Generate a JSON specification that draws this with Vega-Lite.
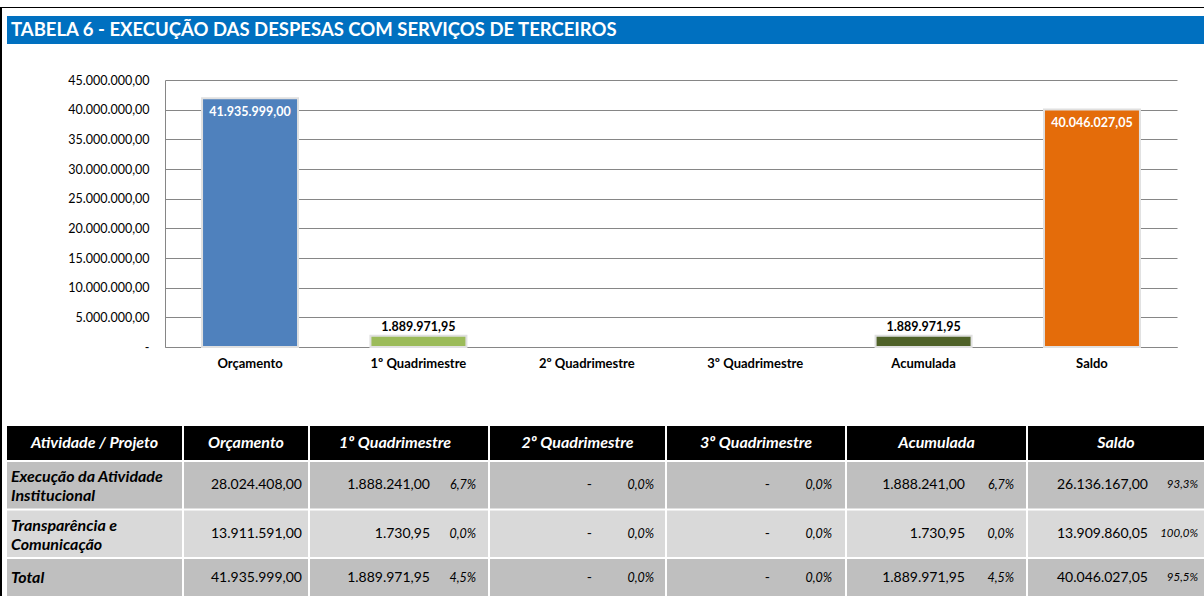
{
  "$schema": "https://vega.github.io/schema/vega-lite/v6.json",
  "background": "white",
  "padding": {"left": 0, "top": 7, "right": 0, "bottom": 0},
  "config": {
    "view": {"stroke": null},
    "locale": {"number": {"decimal": ",", "thousands": ".", "grouping": [3], "currency": ["R$", ""]}},
    "font": "Lato",
    "text": {"font": "Lato", "color": "#000000"}
  },
  "datasets": {
    "titulo": [{"titulo": "TABELA 6 - EXECUÇÃO DAS DESPESAS COM SERVIÇOS DE TERCEIROS"}],
    "grafico": [
      {"categoria": "Orçamento", "valor": 41935999.00},
      {"categoria": "1º  Quadrimestre", "valor": 1889971.95},
      {"categoria": "2º Quadrimestre", "valor": 0},
      {"categoria": "3º Quadrimestre", "valor": 0},
      {"categoria": "Acumulada", "valor": 1889971.95},
      {"categoria": "Saldo", "valor": 40046027.05}
    ],
    "colunas": [
      {"coluna": "Atividade / Projeto"},
      {"coluna": "Orçamento"},
      {"coluna": "1º  Quadrimestre"},
      {"coluna": "2º Quadrimestre"},
      {"coluna": "3º Quadrimestre"},
      {"coluna": "Acumulada"},
      {"coluna": "Saldo"}
    ],
    "tabela": [
      {"linha": "Execução da Atividade\nInstitucional", "coluna": "Orçamento", "valor": 28024408.00, "pct": null},
      {"linha": "Execução da Atividade\nInstitucional", "coluna": "1º  Quadrimestre", "valor": 1888241.00, "pct": 0.067},
      {"linha": "Execução da Atividade\nInstitucional", "coluna": "2º Quadrimestre", "valor": 0, "pct": 0},
      {"linha": "Execução da Atividade\nInstitucional", "coluna": "3º Quadrimestre", "valor": 0, "pct": 0},
      {"linha": "Execução da Atividade\nInstitucional", "coluna": "Acumulada", "valor": 1888241.00, "pct": 0.067},
      {"linha": "Execução da Atividade\nInstitucional", "coluna": "Saldo", "valor": 26136167.00, "pct": 0.933},
      {"linha": "Transparência e\nComunicação", "coluna": "Orçamento", "valor": 13911591.00, "pct": null},
      {"linha": "Transparência e\nComunicação", "coluna": "1º  Quadrimestre", "valor": 1730.95, "pct": 0.0},
      {"linha": "Transparência e\nComunicação", "coluna": "2º Quadrimestre", "valor": 0, "pct": 0},
      {"linha": "Transparência e\nComunicação", "coluna": "3º Quadrimestre", "valor": 0, "pct": 0},
      {"linha": "Transparência e\nComunicação", "coluna": "Acumulada", "valor": 1730.95, "pct": 0.0},
      {"linha": "Transparência e\nComunicação", "coluna": "Saldo", "valor": 13909860.05, "pct": 1.0},
      {"linha": "Total", "coluna": "Orçamento", "valor": 41935999.00, "pct": null},
      {"linha": "Total", "coluna": "1º  Quadrimestre", "valor": 1889971.95, "pct": 0.045},
      {"linha": "Total", "coluna": "2º Quadrimestre", "valor": 0, "pct": 0},
      {"linha": "Total", "coluna": "3º Quadrimestre", "valor": 0, "pct": 0},
      {"linha": "Total", "coluna": "Acumulada", "valor": 1889971.95, "pct": 0.045},
      {"linha": "Total", "coluna": "Saldo", "valor": 40046027.05, "pct": 0.955}
    ]
  },
  "spacing": 0,
  "vconcat": [
    {"width": 1204, "height": 1, "view": {"fill": "#000000"}, "data": {"values": []}, "mark": "rect", "encoding": {}},
    {
      "spacing": 5,
      "hconcat": [
        {"width": 2, "height": 588, "view": {"fill": "#000000"}, "data": {"values": []}, "mark": "rect", "encoding": {}},
        {
          "spacing": 7,
          "vconcat": [
            {"width": 1197, "height": 1, "data": {"values": []}, "mark": "rect", "encoding": {}},
            {
              "spacing": 30,
              "vconcat": [
                {
                  "width": 1197, "height": 28, "view": {"fill": "#0070C0"},
                  "data": {"name": "titulo"},
                  "mark": {"type": "text", "align": "left", "baseline": "middle", "dx": -594.5, "color": "#ffffff", "font": "Lato", "fontWeight": "bold", "fontSize": 18.5},
                  "encoding": {"text": {"field": "titulo"}}
                },
                {
                  "spacing": 56,
                  "vconcat": [
                    {
                      "spacing": 0,
                      "hconcat": [
                        {"width": 60, "height": 1, "data": {"values": []}, "mark": "rect", "encoding": {}},
                        {
                          "width": 1012, "height": 267,
                          "data": {"name": "grafico"},
                          "encoding": {
                            "x": {"field": "categoria", "type": "nominal", "sort": null,
                              "scale": {"paddingInner": 0.43, "paddingOuter": 0.22},
                              "axis": {"title": null, "labelAngle": 0, "ticks": false, "labelPadding": 10, "labelFont": "Lato", "labelFontSize": 13, "labelFontWeight": "bold", "labelColor": "#000000", "domainColor": "#868686", "domainWidth": 1, "grid": false}},
                            "y": {"field": "valor", "type": "quantitative",
                              "scale": {"domain": [0, 45000000], "nice": false},
                              "axis": {"title": null, "values": [0, 5000000, 10000000, 15000000, 20000000, 25000000, 30000000, 35000000, 40000000, 45000000], "format": ",.2f", "labelExpr": "datum.value === 0 ? '-\u00a0\u00a0\u00a0' : datum.label", "ticks": false, "labelPadding": 16, "labelFont": "Lato", "labelFontSize": 12.5, "labelColor": "#000000", "grid": true, "gridColor": "#868686", "gridWidth": 1, "domainColor": "#868686", "domainWidth": 1}}
                          },
                          "layer": [
                            {
                              "mark": {"type": "bar", "stroke": "#e0e0e0", "strokeWidth": 2},
                              "encoding": {
                                "color": {"field": "categoria", "type": "nominal", "sort": null, "legend": null,
                                  "scale": {"range": ["#4F81BD", "#9BBB59", "#8064A2", "#4BACC6", "#4F6228", "#E46C0A"]}},
                                "strokeOpacity": {"condition": {"test": "datum.valor === 0", "value": 0}, "value": 1}
                              }
                            },
                            {
                              "transform": [{"filter": "datum.valor > 10000000"}],
                              "mark": {"type": "text", "baseline": "middle", "dy": 13.5, "color": "#ffffff", "font": "Lato", "fontWeight": "bold", "fontSize": 12.5},
                              "encoding": {"text": {"field": "valor", "type": "quantitative", "format": ",.2f"}}
                            },
                            {
                              "transform": [{"filter": "datum.valor > 0 && datum.valor < 10000000"}],
                              "mark": {"type": "text", "baseline": "middle", "dy": -9, "color": "#000000", "font": "Lato", "fontWeight": "bold", "fontSize": 12.5},
                              "encoding": {"text": {"field": "valor", "type": "quantitative", "format": ",.2f"}}
                            }
                          ]
                        }
                      ]
                    },
                    {
                      "spacing": 2,
                      "vconcat": [
                        {
                          "spacing": 2,
                          "hconcat": [
                            {"width": 175, "height": 34, "data": {"name": "colunas"}, "transform": [{"filter": {"field": "coluna", "equal": "Atividade / Projeto"}}],
                              "layer": [{"mark": {"type": "rect", "fill": "#000000"}, "encoding": {}},
                                {"mark": {"type": "text", "color": "#ffffff", "font": "Lato", "fontWeight": "bold", "fontStyle": "italic", "fontSize": 16}, "encoding": {"text": {"field": "coluna"}}}]},
                            {"width": 124, "height": 34, "data": {"name": "colunas"}, "transform": [{"filter": {"field": "coluna", "equal": "Orçamento"}}],
                              "layer": [{"mark": {"type": "rect", "fill": "#000000"}, "encoding": {}},
                                {"mark": {"type": "text", "color": "#ffffff", "font": "Lato", "fontWeight": "bold", "fontStyle": "italic", "fontSize": 16}, "encoding": {"text": {"field": "coluna"}}}]},
                            {"width": 178, "height": 34, "data": {"name": "colunas"}, "transform": [{"filter": {"field": "coluna", "equal": "1º  Quadrimestre"}}],
                              "layer": [{"mark": {"type": "rect", "fill": "#000000"}, "encoding": {}},
                                {"mark": {"type": "text", "color": "#ffffff", "font": "Lato", "fontWeight": "bold", "fontStyle": "italic", "fontSize": 16, "dx": -4}, "encoding": {"text": {"field": "coluna"}}}]},
                            {"width": 175, "height": 34, "data": {"name": "colunas"}, "transform": [{"filter": {"field": "coluna", "equal": "2º Quadrimestre"}}],
                              "layer": [{"mark": {"type": "rect", "fill": "#000000"}, "encoding": {}},
                                {"mark": {"type": "text", "color": "#ffffff", "font": "Lato", "fontWeight": "bold", "fontStyle": "italic", "fontSize": 16}, "encoding": {"text": {"field": "coluna"}}}]},
                            {"width": 178, "height": 34, "data": {"name": "colunas"}, "transform": [{"filter": {"field": "coluna", "equal": "3º Quadrimestre"}}],
                              "layer": [{"mark": {"type": "rect", "fill": "#000000"}, "encoding": {}},
                                {"mark": {"type": "text", "color": "#ffffff", "font": "Lato", "fontWeight": "bold", "fontStyle": "italic", "fontSize": 16}, "encoding": {"text": {"field": "coluna"}}}]},
                            {"width": 179, "height": 34, "data": {"name": "colunas"}, "transform": [{"filter": {"field": "coluna", "equal": "Acumulada"}}],
                              "layer": [{"mark": {"type": "rect", "fill": "#000000"}, "encoding": {}},
                                {"mark": {"type": "text", "color": "#ffffff", "font": "Lato", "fontWeight": "bold", "fontStyle": "italic", "fontSize": 16}, "encoding": {"text": {"field": "coluna"}}}]},
                            {"width": 176, "height": 34, "data": {"name": "colunas"}, "transform": [{"filter": {"field": "coluna", "equal": "Saldo"}}],
                              "layer": [{"mark": {"type": "rect", "fill": "#000000"}, "encoding": {}},
                                {"mark": {"type": "text", "color": "#ffffff", "font": "Lato", "fontWeight": "bold", "fontStyle": "italic", "fontSize": 16}, "encoding": {"text": {"field": "coluna"}}}]}
                          ]
                        },
                        {
                          "spacing": 2,
                          "hconcat": [
                            {"width": 175, "height": 95, "data": {"name": "tabela"},
                              "transform": [{"filter": {"field": "coluna", "equal": "Orçamento"}}, {"filter": "datum.linha !== 'Total'"}],
                              "encoding": {"y": {"field": "linha", "type": "nominal", "sort": null, "axis": null, "scale": {"paddingInner": 0.0412, "paddingOuter": 0}}},
                              "layer": [
                                {"mark": "rect", "encoding": {"fill": {"condition": {"test": "indexof(datum.linha, 'Transpar') >= 0", "value": "#D9D9D9"}, "value": "#BFBFBF"}}},
                                {"mark": {"type": "text", "align": "left", "dx": -83.5, "dy": -8, "lineBreak": "\n", "lineHeight": 19, "font": "Lato", "fontWeight": "bold", "fontStyle": "italic", "fontSize": 16, "color": "#000000"}, "encoding": {"text": {"field": "linha"}}}
                              ]},
                            {"width": 124, "height": 95, "data": {"name": "tabela"},
                              "transform": [{"filter": {"field": "coluna", "equal": "Orçamento"}}, {"filter": "datum.linha !== 'Total'"}],
                              "encoding": {"y": {"field": "linha", "type": "nominal", "sort": null, "axis": null, "scale": {"paddingInner": 0.0412, "paddingOuter": 0}}},
                              "layer": [
                                {"mark": "rect", "encoding": {"fill": {"condition": {"test": "indexof(datum.linha, 'Transpar') >= 0", "value": "#D9D9D9"}, "value": "#BFBFBF"}}},
                                {"mark": {"type": "text", "align": "right", "dx": 56, "font": "Lato", "fontSize": 14, "color": "#000000"}, "encoding": {"text": {"field": "valor", "type": "quantitative", "format": ",.2f"}}}
                              ]},
                            {"width": 178, "height": 95, "data": {"name": "tabela"},
                              "transform": [{"filter": {"field": "coluna", "equal": "1º  Quadrimestre"}}, {"filter": "datum.linha !== 'Total'"}],
                              "encoding": {"y": {"field": "linha", "type": "nominal", "sort": null, "axis": null, "scale": {"paddingInner": 0.0412, "paddingOuter": 0}}},
                              "layer": [
                                {"mark": "rect", "encoding": {"fill": {"condition": {"test": "indexof(datum.linha, 'Transpar') >= 0", "value": "#D9D9D9"}, "value": "#BFBFBF"}}},
                                {"mark": {"type": "text", "align": "right", "dx": 31, "font": "Lato", "fontSize": 14, "color": "#000000"}, "encoding": {"text": {"condition": {"test": "datum.valor === 0", "value": "-"}, "field": "valor", "type": "quantitative", "format": ",.2f"}}},
                                {"mark": {"type": "text", "align": "right", "dx": 77, "font": "Lato", "fontSize": 12.5, "fontStyle": "italic", "color": "#000000"}, "encoding": {"text": {"field": "pct", "type": "quantitative", "format": ".1%"}}}
                              ]},
                            {"width": 175, "height": 95, "data": {"name": "tabela"},
                              "transform": [{"filter": {"field": "coluna", "equal": "2º Quadrimestre"}}, {"filter": "datum.linha !== 'Total'"}],
                              "encoding": {"y": {"field": "linha", "type": "nominal", "sort": null, "axis": null, "scale": {"paddingInner": 0.0412, "paddingOuter": 0}}},
                              "layer": [
                                {"mark": "rect", "encoding": {"fill": {"condition": {"test": "indexof(datum.linha, 'Transpar') >= 0", "value": "#D9D9D9"}, "value": "#BFBFBF"}}},
                                {"mark": {"type": "text", "align": "right", "dx": 14.5, "font": "Lato", "fontSize": 14, "color": "#000000"}, "encoding": {"text": {"condition": {"test": "datum.valor === 0", "value": "-"}, "field": "valor", "type": "quantitative", "format": ",.2f"}}},
                                {"mark": {"type": "text", "align": "right", "dx": 76.5, "font": "Lato", "fontSize": 12.5, "fontStyle": "italic", "color": "#000000"}, "encoding": {"text": {"field": "pct", "type": "quantitative", "format": ".1%"}}}
                              ]},
                            {"width": 178, "height": 95, "data": {"name": "tabela"},
                              "transform": [{"filter": {"field": "coluna", "equal": "3º Quadrimestre"}}, {"filter": "datum.linha !== 'Total'"}],
                              "encoding": {"y": {"field": "linha", "type": "nominal", "sort": null, "axis": null, "scale": {"paddingInner": 0.0412, "paddingOuter": 0}}},
                              "layer": [
                                {"mark": "rect", "encoding": {"fill": {"condition": {"test": "indexof(datum.linha, 'Transpar') >= 0", "value": "#D9D9D9"}, "value": "#BFBFBF"}}},
                                {"mark": {"type": "text", "align": "right", "dx": 14, "font": "Lato", "fontSize": 14, "color": "#000000"}, "encoding": {"text": {"condition": {"test": "datum.valor === 0", "value": "-"}, "field": "valor", "type": "quantitative", "format": ",.2f"}}},
                                {"mark": {"type": "text", "align": "right", "dx": 76, "font": "Lato", "fontSize": 12.5, "fontStyle": "italic", "color": "#000000"}, "encoding": {"text": {"field": "pct", "type": "quantitative", "format": ".1%"}}}
                              ]},
                            {"width": 179, "height": 95, "data": {"name": "tabela"},
                              "transform": [{"filter": {"field": "coluna", "equal": "Acumulada"}}, {"filter": "datum.linha !== 'Total'"}],
                              "encoding": {"y": {"field": "linha", "type": "nominal", "sort": null, "axis": null, "scale": {"paddingInner": 0.0412, "paddingOuter": 0}}},
                              "layer": [
                                {"mark": "rect", "encoding": {"fill": {"condition": {"test": "indexof(datum.linha, 'Transpar') >= 0", "value": "#D9D9D9"}, "value": "#BFBFBF"}}},
                                {"mark": {"type": "text", "align": "right", "dx": 28.5, "font": "Lato", "fontSize": 14, "color": "#000000"}, "encoding": {"text": {"condition": {"test": "datum.valor === 0", "value": "-"}, "field": "valor", "type": "quantitative", "format": ",.2f"}}},
                                {"mark": {"type": "text", "align": "right", "dx": 77.5, "font": "Lato", "fontSize": 12.5, "fontStyle": "italic", "color": "#000000"}, "encoding": {"text": {"field": "pct", "type": "quantitative", "format": ".1%"}}}
                              ]},
                            {"width": 176, "height": 95, "data": {"name": "tabela"},
                              "transform": [{"filter": {"field": "coluna", "equal": "Saldo"}}, {"filter": "datum.linha !== 'Total'"}],
                              "encoding": {"y": {"field": "linha", "type": "nominal", "sort": null, "axis": null, "scale": {"paddingInner": 0.0412, "paddingOuter": 0}}},
                              "layer": [
                                {"mark": "rect", "encoding": {"fill": {"condition": {"test": "indexof(datum.linha, 'Transpar') >= 0", "value": "#D9D9D9"}, "value": "#BFBFBF"}}},
                                {"mark": {"type": "text", "align": "right", "dx": 32, "font": "Lato", "fontSize": 14, "color": "#000000"}, "encoding": {"text": {"condition": {"test": "datum.valor === 0", "value": "-"}, "field": "valor", "type": "quantitative", "format": ",.2f"}}},
                                {"mark": {"type": "text", "align": "right", "dx": 82, "font": "Lato", "fontSize": 11.5, "fontStyle": "italic", "color": "#000000"}, "encoding": {"text": {"field": "pct", "type": "quantitative", "format": ".1%"}}}
                              ]}
                          ]
                        },
                        {
                          "spacing": 2,
                          "hconcat": [
                            {"width": 175, "height": 37, "data": {"name": "tabela"},
                              "transform": [{"filter": {"field": "coluna", "equal": "Orçamento"}}, {"filter": "datum.linha === 'Total'"}],
                              "layer": [
                                {"mark": {"type": "rect", "fill": "#BFBFBF"}, "encoding": {}},
                                {"mark": {"type": "text", "align": "left", "dx": -83.5, "font": "Lato", "fontWeight": "bold", "fontStyle": "italic", "fontSize": 16, "color": "#000000"}, "encoding": {"text": {"field": "linha"}}}
                              ]},
                            {"width": 124, "height": 37, "data": {"name": "tabela"},
                              "transform": [{"filter": {"field": "coluna", "equal": "Orçamento"}}, {"filter": "datum.linha === 'Total'"}],
                              "layer": [
                                {"mark": {"type": "rect", "fill": "#BFBFBF"}, "encoding": {}},
                                {"mark": {"type": "text", "align": "right", "dx": 56, "font": "Lato", "fontSize": 14, "color": "#000000"}, "encoding": {"text": {"field": "valor", "type": "quantitative", "format": ",.2f"}}}
                              ]},
                            {"width": 178, "height": 37, "data": {"name": "tabela"},
                              "transform": [{"filter": {"field": "coluna", "equal": "1º  Quadrimestre"}}, {"filter": "datum.linha === 'Total'"}],
                              "layer": [
                                {"mark": {"type": "rect", "fill": "#BFBFBF"}, "encoding": {}},
                                {"mark": {"type": "text", "align": "right", "dx": 31, "font": "Lato", "fontSize": 14, "color": "#000000"}, "encoding": {"text": {"condition": {"test": "datum.valor === 0", "value": "-"}, "field": "valor", "type": "quantitative", "format": ",.2f"}}},
                                {"mark": {"type": "text", "align": "right", "dx": 77, "font": "Lato", "fontSize": 12.5, "fontStyle": "italic", "color": "#000000"}, "encoding": {"text": {"field": "pct", "type": "quantitative", "format": ".1%"}}}
                              ]},
                            {"width": 175, "height": 37, "data": {"name": "tabela"},
                              "transform": [{"filter": {"field": "coluna", "equal": "2º Quadrimestre"}}, {"filter": "datum.linha === 'Total'"}],
                              "layer": [
                                {"mark": {"type": "rect", "fill": "#BFBFBF"}, "encoding": {}},
                                {"mark": {"type": "text", "align": "right", "dx": 14.5, "font": "Lato", "fontSize": 14, "color": "#000000"}, "encoding": {"text": {"condition": {"test": "datum.valor === 0", "value": "-"}, "field": "valor", "type": "quantitative", "format": ",.2f"}}},
                                {"mark": {"type": "text", "align": "right", "dx": 76.5, "font": "Lato", "fontSize": 12.5, "fontStyle": "italic", "color": "#000000"}, "encoding": {"text": {"field": "pct", "type": "quantitative", "format": ".1%"}}}
                              ]},
                            {"width": 178, "height": 37, "data": {"name": "tabela"},
                              "transform": [{"filter": {"field": "coluna", "equal": "3º Quadrimestre"}}, {"filter": "datum.linha === 'Total'"}],
                              "layer": [
                                {"mark": {"type": "rect", "fill": "#BFBFBF"}, "encoding": {}},
                                {"mark": {"type": "text", "align": "right", "dx": 14, "font": "Lato", "fontSize": 14, "color": "#000000"}, "encoding": {"text": {"condition": {"test": "datum.valor === 0", "value": "-"}, "field": "valor", "type": "quantitative", "format": ",.2f"}}},
                                {"mark": {"type": "text", "align": "right", "dx": 76, "font": "Lato", "fontSize": 12.5, "fontStyle": "italic", "color": "#000000"}, "encoding": {"text": {"field": "pct", "type": "quantitative", "format": ".1%"}}}
                              ]},
                            {"width": 179, "height": 37, "data": {"name": "tabela"},
                              "transform": [{"filter": {"field": "coluna", "equal": "Acumulada"}}, {"filter": "datum.linha === 'Total'"}],
                              "layer": [
                                {"mark": {"type": "rect", "fill": "#BFBFBF"}, "encoding": {}},
                                {"mark": {"type": "text", "align": "right", "dx": 28.5, "font": "Lato", "fontSize": 14, "color": "#000000"}, "encoding": {"text": {"condition": {"test": "datum.valor === 0", "value": "-"}, "field": "valor", "type": "quantitative", "format": ",.2f"}}},
                                {"mark": {"type": "text", "align": "right", "dx": 77.5, "font": "Lato", "fontSize": 12.5, "fontStyle": "italic", "color": "#000000"}, "encoding": {"text": {"field": "pct", "type": "quantitative", "format": ".1%"}}}
                              ]},
                            {"width": 176, "height": 37, "data": {"name": "tabela"},
                              "transform": [{"filter": {"field": "coluna", "equal": "Saldo"}}, {"filter": "datum.linha === 'Total'"}],
                              "layer": [
                                {"mark": {"type": "rect", "fill": "#BFBFBF"}, "encoding": {}},
                                {"mark": {"type": "text", "align": "right", "dx": 32, "font": "Lato", "fontSize": 14, "color": "#000000"}, "encoding": {"text": {"condition": {"test": "datum.valor === 0", "value": "-"}, "field": "valor", "type": "quantitative", "format": ",.2f"}}},
                                {"mark": {"type": "text", "align": "right", "dx": 82, "font": "Lato", "fontSize": 11.5, "fontStyle": "italic", "color": "#000000"}, "encoding": {"text": {"field": "pct", "type": "quantitative", "format": ".1%"}}}
                              ]}
                          ]
                        }
                      ]
                    }
                  ]
                }
              ]
            }
          ]
        }
      ]
    }
  ]
}
